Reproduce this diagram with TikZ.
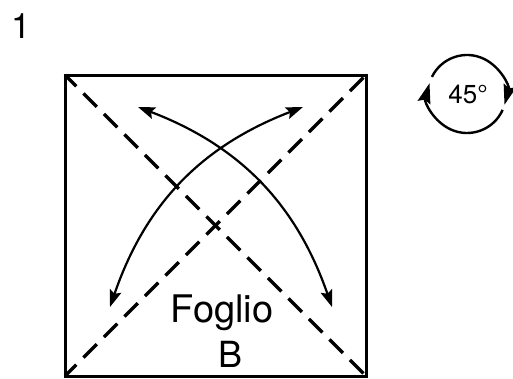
\documentclass[tikz,border=0pt]{standalone}
\usepackage{fontspec}
\setmainfont{TeX Gyre Heros}
\usetikzlibrary{arrows.meta, positioning}

\begin{document}
\begin{tikzpicture}[x=1pt, y=-1pt,
        foldline/.style={line width=3.2pt, dash pattern=on 19pt off 10pt, dash phase=3pt},
        fliparrow/.style={line width=2.2pt, {Stealth[length=17pt, width=12pt, inset=3pt]}-{Stealth[length=17pt, width=12pt, inset=3pt]}},
        turnarrow/.style={line width=2.4pt, -{Stealth[length=20pt, width=13pt, inset=3pt]}}]

        \useasboundingbox (0,0) rectangle (513,378);

        % Step number
        \node[anchor=base west, inner sep=0pt, font=\fontsize{35}{35}\selectfont] (num) at (11,38) {1};

        % Sheet corners
        \coordinate (tl) at (65,75);
        \coordinate (tr) at (366,75);
        \coordinate (br) at (366,376);
        \coordinate (bl) at (65,376);

        % Draw sheet
        \draw[line width=3pt] (tl) -- (tr) -- (br) -- (bl) -- cycle;

        % Diagonal folds
        \draw[foldline] (tl) -- (br);
        \draw[foldline] (bl) -- (tr);

        % Fold arrows
        \coordinate (a1) at (110,307);
        \coordinate (a2) at (303,107);
        \coordinate (b1) at (332,307);
        \coordinate (b2) at (138,107);
        \draw[fliparrow] (a1) to[bend left=25] (a2);
        \draw[fliparrow] (b1) to[bend right=25] (b2);

        % Sheet label
        \node[anchor=base, inner sep=0pt, font=\fontsize{38}{38}\selectfont] (name) at (222,322) {Foglio};
        \node[anchor=base, inner sep=0pt, font=\fontsize{36}{36}\selectfont] (letter) at (231,367) {B};

        % Turn symbol
        \coordinate (rot) at (467,94);
        \draw[turnarrow] ([shift={(-154:39)}]rot) arc[start angle=-154, end angle=16, radius=39];
        \draw[turnarrow] ([shift={(24:39)}]rot) arc[start angle=24, end angle=196, radius=39];
        \node[anchor=base, inner sep=0pt, font=\fontsize{26}{26}\selectfont] (angle) at (468,103) {45°};

\end{tikzpicture}
\end{document}
